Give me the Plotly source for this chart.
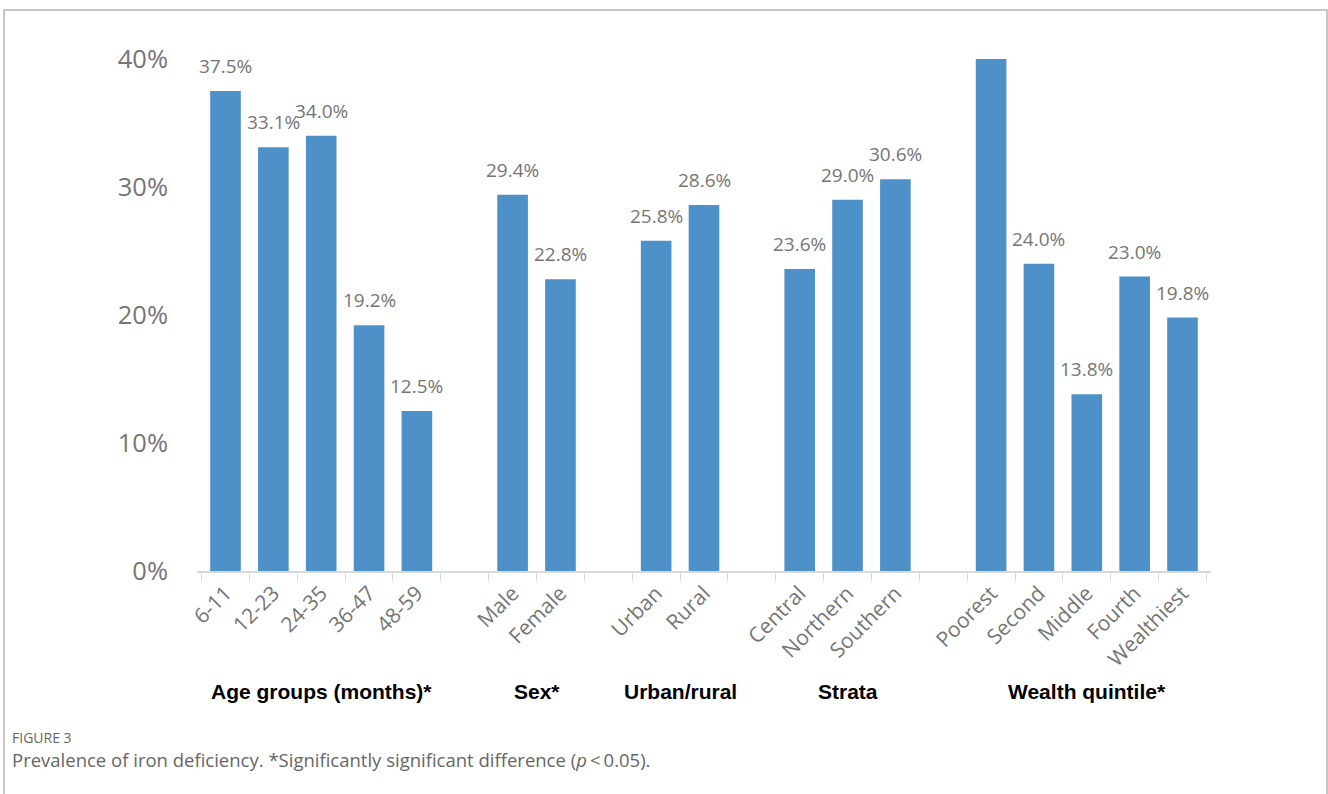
import plotly.graph_objects as go

# ---- data ----
groups = ["Age groups (months)*", "Sex*", "Urban/rural", "Strata", "Wealth quintile*"]
age_cats = ["6-11", "12-23", "24-35", "36-47", "48-59"]
age_vals = [37.5, 33.1, 34.0, 19.2, 12.5]
sex_cats = ["Male", "Female"]
sex_vals = [29.4, 22.8]
res_cats = ["Urban", "Rural"]
res_vals = [25.8, 28.6]
strata_cats = ["Central", "Northern", "Southern"]
strata_vals = [23.6, 29.0, 30.6]
wealth_cats = ["Poorest", "Second", "Middle", "Fourth", "Wealthiest"]
wealth_vals = [40.0, 24.0, 13.8, 23.0, 19.8]
y_ticks = [0, 10, 20, 30, 40]

cat_groups = [age_cats, sex_cats, res_cats, strata_cats, wealth_cats]
val_groups = [age_vals, sex_vals, res_vals, strata_vals, wealth_vals]

xs, ys, grp_centers = [], [], []
for gi, (cats, vals) in enumerate(zip(cat_groups, val_groups)):
    start = len(xs)
    xs += cats
    ys += vals
    grp_centers.append(start + (len(cats) - 1) / 2)
    if gi < len(cat_groups) - 1:
        xs.append(" " * (gi + 1))
        ys.append(None)

BAR = "#4e91c9"
GRAY = "#757575"
FONT = "Open Sans, Noto Sans, sans-serif"

fig = go.Figure()
fig.add_trace(go.Bar(x=xs, y=ys, marker=dict(color=BAR, line=dict(width=0)),
                     width=0.64, hoverinfo="x+y"))

annotations = []
for x, y in zip(xs, ys):
    if y is None or y >= 40:
        continue
    annotations.append(dict(x=x, y=y, xref="x", yref="y", text=f"{y:.1f}%",
                            showarrow=False, yanchor="bottom", yshift=10,
                            font=dict(family=FONT, size=19, color=GRAY)))
for g, c in zip(groups, grp_centers):
    annotations.append(dict(x=c, y=-0.236, xref="x", yref="paper", text=f"<b>{g}</b>",
                            showarrow=False, yanchor="middle",
                            font=dict(family="Liberation Sans, Arial, sans-serif", size=21, color="black")))
annotations.append(dict(x=-0.1844, y=-0.326, xref="paper", yref="paper", text="FIGURE 3",
                        showarrow=False, xanchor="left", yanchor="middle",
                        font=dict(family=FONT, size=14, color="#666666")))
annotations.append(dict(x=-0.1844, y=-0.369, xref="paper", yref="paper",
                        text="Prevalence of iron deficiency. *Significantly significant difference (<i>p</i>\u2009<\u20090.05).",
                        showarrow=False, xanchor="left", yanchor="middle",
                        font=dict(family=FONT, size=18.5, color="#666666")))

fig.update_layout(
    width=1328, height=794,
    margin=dict(l=197, r=117, t=59, b=223),
    paper_bgcolor="white", plot_bgcolor="white",
    showlegend=False, bargap=0.36,
    annotations=annotations,
    shapes=[dict(type="rect", xref="paper", yref="paper", x0=-0.1903, x1=1.1144,
                 y0=-0.6, y1=1.0957, line=dict(color="#b5b5b5", width=1.5), layer="below")],
    xaxis=dict(type="category", categoryorder="array", categoryarray=xs,
               tickangle=-45, tickson="boundaries", ticks="outside", ticklen=8,
               tickcolor="#d9d9d9", showline=True, linecolor="#d9d9d9", linewidth=1.5,
               showgrid=False,
               tickfont=dict(family=FONT, size=21, color=GRAY)),
    yaxis=dict(range=[0, 40], tickvals=y_ticks, ticktext=[f"{v}%" for v in y_ticks],
               showgrid=False, zeroline=False, showline=False, ticks="", ticklabelstandoff=28,
               tickfont=dict(family=FONT, size=25.5, color=GRAY)),
)

fig.write_html("out.html")
